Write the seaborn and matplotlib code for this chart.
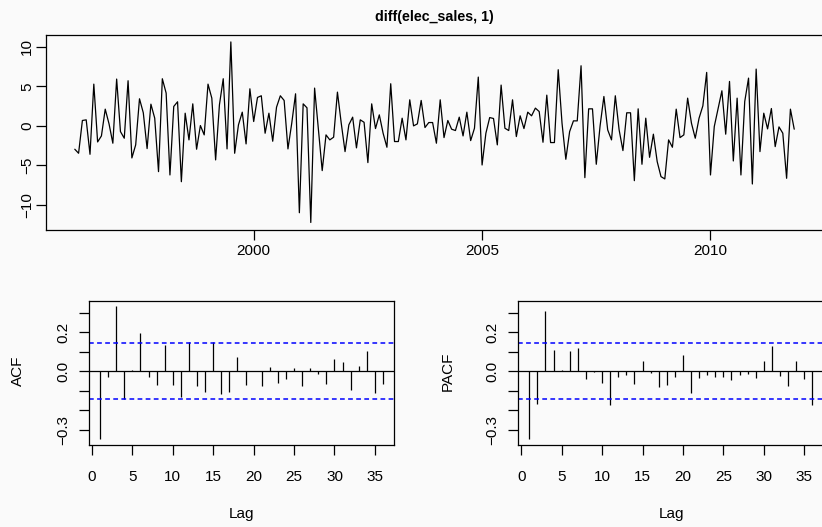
import numpy as np
import pandas as pd
import matplotlib
matplotlib.use("Agg")
import matplotlib.pyplot as plt
import seaborn as sns

# ---------------- data ----------------
series_title = "diff(elec_sales, 1)"
start_year = 1996
start_month = 2
diff_values = [
    -2.95, -3.46, 0.68, 0.76, -3.59, 5.27, -2.03, -1.27, 2.11, 0.25,
    -2.19, 5.91, -0.72, -1.56, 5.70, -4.05, -2.4, 3.42, 1.65, -2.87,
    2.74, 0.97, -5.78, 5.95, 4.14, -6.2, 2.45, 3.04, -7.05, 1.6,
    -1.77, 2.78, -2.95, 0.04, -1.14, 5.27, 3.5, -4.3, 2.66, 5.95,
    -2.91, 10.6, -3.46, 0.13, 1.73, -2.28, 4.68, 0.55, 3.59, 3.8,
    -0.93, 1.6, -1.94, 2.36, 3.8, 3.21, -2.91, 0.34, 4.05, -10.97,
    2.78, 2.28, -12.2, 4.77, -0.5, -5.65, -1.14, -1.77, -1.43, 4.26,
    0.34, -3.25, 0.13, 1.1, -2.78, 0.76, 0.45, -4.64, 2.78, -0.34,
    1.39, -0.93, -2.7, 5.32, -1.98, -1.98, 0.97, -1.77, 3.29, 0.0,
    0.25, 3.21, -0.21, 0.42, 0.42, -2.19, 3.29, -1.48, 0.68, -0.42,
    -0.59, 1.1, -1.27, 1.73, -1.86, -0.3, 6.16, -4.94, -0.93, 1.05,
    0.93, -2.4, 5.15, -0.3, -0.59, 3.29, -1.35, 1.27, -0.34, 1.73,
    1.27, 2.24, 1.81, -2.07, 3.88, -2.11, -2.11, 7.09, 0.34, -4.22,
    -0.72, 0.63, 0.63, 7.59, -6.54, 2.15, 2.15, -4.85, 0.0, 3.71,
    -0.51, -1.77, 3.8, -0.51, -3.12, 1.65, 1.65, -6.92, 2.15, -4.85,
    0.97, -3.97, -1.05, -4.51, -6.41, -6.7, -1.77, -2.7, 2.11, -1.48,
    -1.14, 3.5, 0.34, -1.56, 0.97, 2.53, 6.75, -6.2, -0.08, 2.15,
    4.43, -1.05, 5.61, -4.43, 3.5, -6.2, 3.08, 6.03, -7.34, 7.17,
    -3.25, 1.6, -0.38, 2.19, -2.62, -0.13, -0.93, -6.62, 2.11, -0.42,
]
acf_lags = list(range(1, 37))
acf_values = [
    -0.347, -0.031, 0.332, -0.142, 0.005, 0.193, -0.030, -0.069, 0.134, -0.073,
    -0.130, 0.147, -0.078, -0.108, 0.149, -0.118, -0.108, 0.075, -0.071, 0.003,
    -0.076, 0.020, -0.061, -0.041, 0.014, -0.076, 0.017, -0.012, -0.064, 0.064,
    0.047, -0.098, 0.025, 0.103, -0.112, -0.064,
]
pacf_values = [
    -0.349, -0.166, 0.310, 0.107, 0.007, 0.103, 0.120, -0.041, -0.003, -0.059,
    -0.173, -0.030, -0.017, -0.066, 0.054, -0.010, -0.081, -0.071, -0.030, 0.083,
    -0.114, -0.036, -0.022, -0.030, -0.030, -0.044, -0.022, -0.014, -0.036, 0.053,
    0.131, -0.027, -0.076, 0.051, -0.041, -0.171,
]
top_xticks = [2000, 2005, 2010]
top_yticks = [-10, -5, 0, 5, 10]
cf_yticks = [-0.3, -0.2, -0.1, 0.0, 0.1, 0.2, 0.3]
cf_yticklabels = ["\u22120.3", "", "", "0.0", "", "0.2", ""]
lag_xticks = [0, 5, 10, 15, 20, 25, 30, 35]
acf_ylabel = "ACF"
pacf_ylabel = "PACF"
lag_xlabel = "Lag"

# ---------------- style ----------------
sns.set_theme(style="ticks")
plt.rcParams["font.family"] = ["Liberation Sans", "DejaVu Sans"]
bg = "#fafafa"
FS = 11
LW = 0.9
CI_COLOR = "#0000ff"

W, H = 822, 527
fig = plt.figure(figsize=(W / 100, H / 100), dpi=100, facecolor=bg)


def rect(l, t, r, b):
    return [l / W, 1 - b / H, (r - l) / W, (b - t) / H]


def px(x, y):
    return x / W, 1 - y / H


ax_ts = fig.add_axes(rect(46, 34.7, 823, 229.7))
ax_acf = fig.add_axes(rect(88.7, 301, 394.3, 444.7))
ax_pacf = fig.add_axes(rect(518, 301, 823.6, 444.7))

for ax in (ax_ts, ax_acf, ax_pacf):
    ax.set_facecolor(bg)
    for s in ax.spines.values():
        s.set_visible(True)
        s.set_color("black")
        s.set_linewidth(LW)
    ax.grid(False)

# ---------------- time series ----------------
n = len(diff_values)
t = start_year + (start_month - 1) / 12 + np.arange(n) / 12
df = pd.DataFrame({"time": t, "value": diff_values})
sns.lineplot(data=df, x="time", y="value", ax=ax_ts, color="black",
             linewidth=LW, estimator=None, legend=False)
lo, hi = min(diff_values), max(diff_values)
pad = 0.04 * (hi - lo)
ax_ts.set_ylim(lo - pad, hi + pad)
tpad = 0.04 * (t[-1] - t[0])
ax_ts.set_xlim(t[0] - tpad, t[-1] + tpad)
ax_ts.set_xticks(top_xticks)
ax_ts.set_xticklabels([str(v) for v in top_xticks])
ax_ts.set_yticks(top_yticks)
ax_ts.set_yticklabels([str(v).replace("-", "\u2212") for v in top_yticks])
ax_ts.set_xlabel("")
ax_ts.set_ylabel("")
ax_ts.tick_params(axis="x", direction="out", length=7.5, width=LW, colors="black",
                  labelsize=FS, pad=3)
ax_ts.tick_params(axis="y", direction="out", length=7.5, width=LW, colors="black",
                  labelsize=FS, pad=1)
for lab in ax_ts.get_yticklabels():
    lab.set_rotation(90)
    lab.set_va("center")
    lab.set_ha("right")

# ---------------- ACF / PACF ----------------
ci = 1.96 / np.sqrt(n)
base = 3 / np.sqrt(n)
allv = acf_values + pacf_values + [base, -base]
clo, chi = min(allv), max(allv)
cpad = 0.04 * (chi - clo)
lpad = 0.04 * (acf_lags[-1] - acf_lags[0])

for ax, vals, ylab in ((ax_acf, acf_values, acf_ylabel), (ax_pacf, pacf_values, pacf_ylabel)):
    ax.vlines(acf_lags, 0, vals, color="black", linewidth=LW)
    ax.axhline(0, color="black", linewidth=LW)
    for c in (ci, -ci):
        ax.axhline(c, color=CI_COLOR, linewidth=1.1, linestyle=(0, (3.1, 2.2)))
    ax.set_xlim(acf_lags[0] - lpad, acf_lags[-1] + lpad)
    ax.set_ylim(clo - cpad, chi + cpad)
    ax.set_xticks(lag_xticks)
    ax.set_xticklabels([str(v) for v in lag_xticks])
    ax.set_yticks(cf_yticks)
    ax.set_yticklabels(cf_yticklabels)
    ax.tick_params(axis="x", direction="out", length=7.5, width=LW, colors="black",
                   labelsize=FS, pad=10.5)
    ax.tick_params(axis="y", direction="out", length=7.5, width=LW, colors="black",
                   labelsize=FS, pad=6)
    for lab in ax.get_yticklabels():
        lab.set_rotation(90)
        lab.set_va("center")
        lab.set_ha("right")

fig.text(*px(18.3, 371), acf_ylabel, rotation=90, ha="center", va="center", fontsize=FS, color="black")
fig.text(*px(448, 371), pacf_ylabel, rotation=90, ha="center", va="center", fontsize=FS, color="black")
fig.text(*px(241.5, 514), lag_xlabel, ha="center", va="center", fontsize=FS, color="black")
fig.text(*px(671, 514), lag_xlabel, ha="center", va="center", fontsize=FS, color="black")
fig.text(*px(434.5, 17), series_title, ha="center", va="center", fontsize=10.3,
         fontweight="bold", color="black")

fig.savefig("out.png", dpi=100, facecolor=bg)
